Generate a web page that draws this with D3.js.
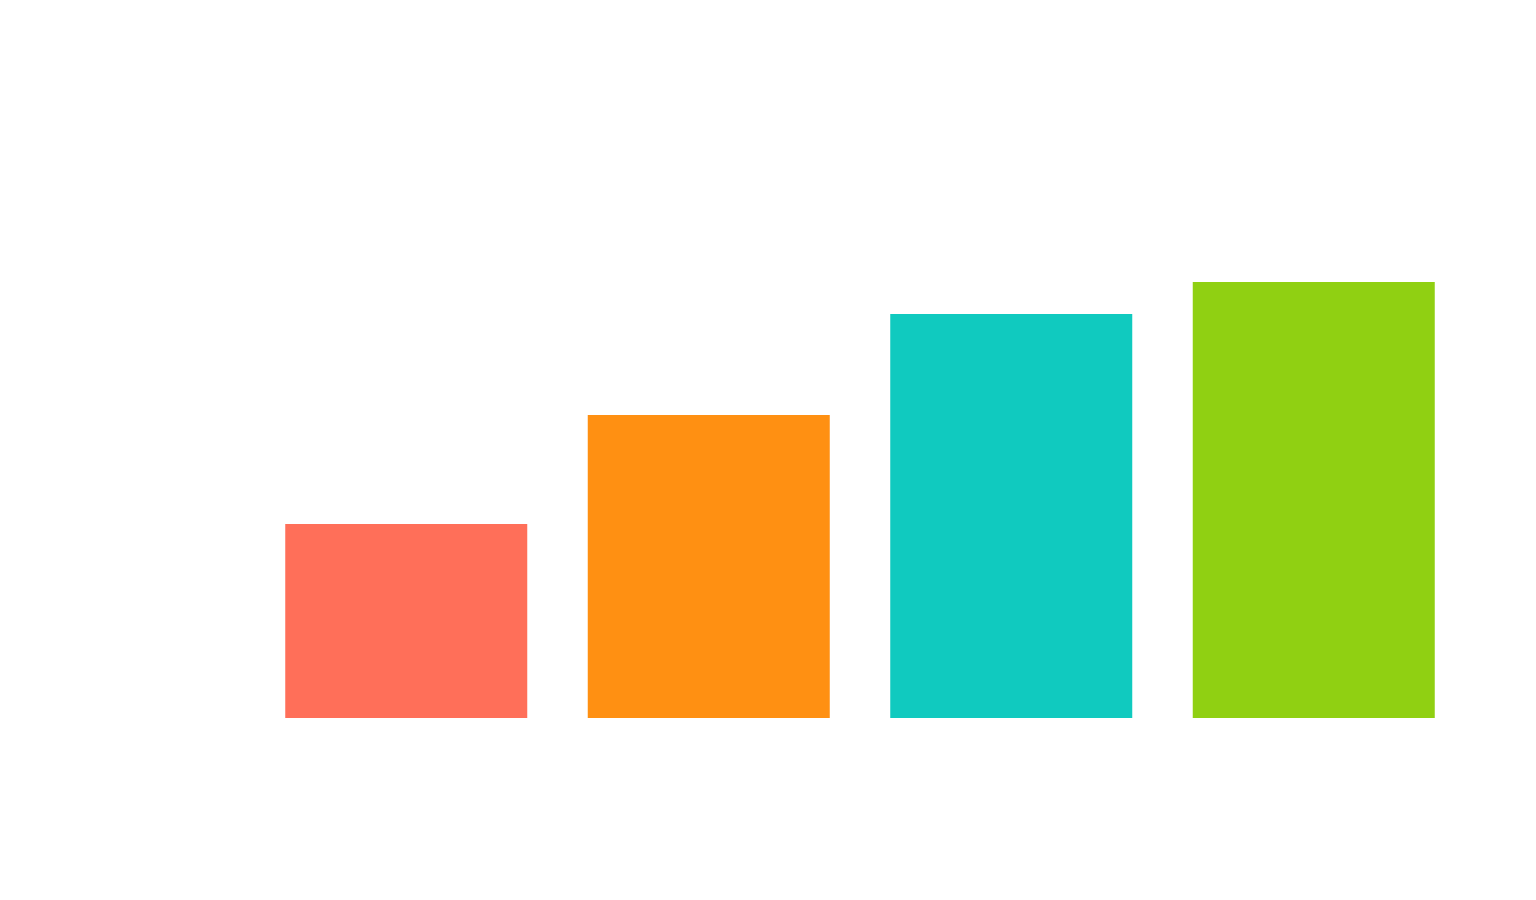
<!DOCTYPE html>
<html>
<head>
<meta charset="utf-8">
<script src="https://cdn.jsdelivr.net/npm/d3@7"></script>
<style>
  html, body { margin: 0; padding: 0; background: #fff; }
  svg { display: block; }
</style>
</head>
<body>
<svg></svg>
<script>
var WIDTH = 1536,
    HEIGHT = 900,
    MARGIN = {top: 218, left: 255, bottom: 182, right: 71};

var categories = ["A", "B", "C", "D"];
var values = [19.4, 30.3, 40.4, 43.6];
var colors = ["#FF6F59", "#FF9012", "#10CABF", "#90D012"];

var svg = d3.select("svg")
    .attr("width", WIDTH)
    .attr("height", HEIGHT)
    .style("background", "white");

var x = d3.scaleBand()
    .domain(categories)
    .range([MARGIN.left, WIDTH - MARGIN.right])
    .paddingInner(0.2)
    .paddingOuter(0.1);

var y = d3.scaleLinear()
    .domain([0, 50])
    .range([HEIGHT - MARGIN.bottom, MARGIN.top]);

var color = d3.scaleOrdinal()
    .domain(categories)
    .range(colors);

svg.append("g")
    .attr("id", "bars")
  .selectAll("rect")
  .data(categories)
  .join("rect")
    .attr("class", "bar")
    .attr("x", function(d) { return x(d); })
    .attr("y", function(d, i) { return y(values[i]); })
    .attr("width", x.bandwidth())
    .attr("height", function(d, i) { return y(0) - y(values[i]); })
    .style("fill", function(d) { return color(d); });
</script>
</body>
</html>
